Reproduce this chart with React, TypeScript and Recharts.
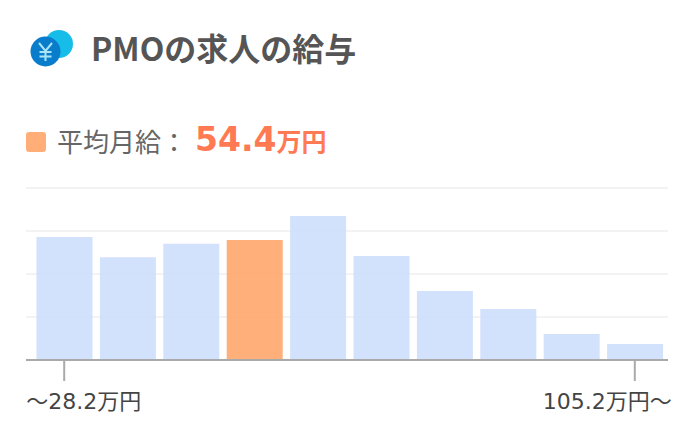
import React from "react";
import { BarChart, Bar, Cell, XAxis, YAxis, CartesianGrid } from "recharts";

const FONT = '"Noto Sans CJK JP", "Noto Sans", sans-serif';
const WIDE_FONT = '"DejaVu Sans", "Noto Sans CJK JP", sans-serif';

const categories = ["～28.2万円", "b2", "b3", "b4", "b5", "b6", "b7", "b8", "b9", "105.2万円～"];
const shares = [71.5, 59.7, 67.6, 69.8, 83.7, 60.5, 40.1, 29.7, 15.1, 9.3];
const averageBin = "b4";
const edgeTicks = ["～28.2万円", "105.2万円～"];
const gridTicks = [0, 25, 50, 75, 100];

const data = categories.map((name, i) => ({ name, share: shares[i] }));

// first label hangs right of its tick, last one hangs left
function EdgeTick({ x, y, payload }: any) {
  const first = payload.value === edgeTicks[0];
  return (
    <text
      x={first ? x - 38 : x + 37}
      y={y + 26}
      textAnchor={first ? "start" : "end"}
      fontSize={22}
      fontFamily={WIDE_FONT}
      fill="#444"
    >
      {payload.value}
    </text>
  );
}

function YenIcon() {
  return (
    <svg width={50} height={40} style={{ position: "absolute", left: 26, top: 29 }}>
      <circle cx={33} cy={15} r={14} fill="#17bde9" />
      <circle cx={19.5} cy={22.5} r={15} fill="#0a7ccc" />
      <path
        d="M13 14 L19.5 22 L26 14 M19.5 22 L19.5 32 M13.5 23 L25.5 23 M13.5 27.5 L25.5 27.5"
        stroke="#a8e6f6"
        strokeWidth={2}
        fill="none"
      />
    </svg>
  );
}

export default function App() {
  return (
    <div style={{ position: "absolute", left: 0, top: 0, width: 697, height: 428, background: "#fff", fontFamily: FONT }}>
      <YenIcon />
      <div style={{ position: "absolute", left: 91, top: 26, fontSize: 32, lineHeight: "42px", fontWeight: 700, color: "#555", whiteSpace: "nowrap" }}>
        PMOの求人の給与
      </div>
      <div style={{ position: "absolute", left: 26, top: 132, width: 20, height: 20, borderRadius: 3, background: "#ffae78" }} />
      <div style={{ position: "absolute", left: 57, top: 123, fontSize: 26, lineHeight: "36px", color: "#666", whiteSpace: "nowrap" }}>
        平均月給：
      </div>
      <div style={{ position: "absolute", left: 195, top: 115, lineHeight: "50px", fontWeight: 700, color: "#ff7a53", whiteSpace: "nowrap", fontFamily: WIDE_FONT }}>
        <span style={{ fontSize: 33 }}>54.4</span>
        <span style={{ fontSize: 25 }}>万円</span>
      </div>

      <BarChart
        width={697}
        height={428}
        data={data}
        margin={{ top: 188, right: 29, bottom: 0, left: 26 }}
        barSize={56}
      >
        <CartesianGrid horizontal vertical={false} stroke="#f3f3f3" strokeWidth={2} />
        <XAxis
          dataKey="name"
          ticks={edgeTicks}
          interval={0}
          padding={{ left: 6.5, right: 1.5 }}
          axisLine={{ stroke: "#aaa", strokeWidth: 2 }}
          tickLine={{ stroke: "#aaa", strokeWidth: 2 }}
          tickSize={21}
          tick={<EdgeTick />}
          height={68}
        />
        <YAxis hide domain={[0, 100]} ticks={gridTicks} />
        <Bar dataKey="share" isAnimationActive={false} fillOpacity={0.92}>
          {data.map((d) => (
            <Cell key={d.name} fill={d.name === averageBin ? "#ffa96f" : "#cfe0fc"} />
          ))}
        </Bar>
      </BarChart>
    </div>
  );
}
